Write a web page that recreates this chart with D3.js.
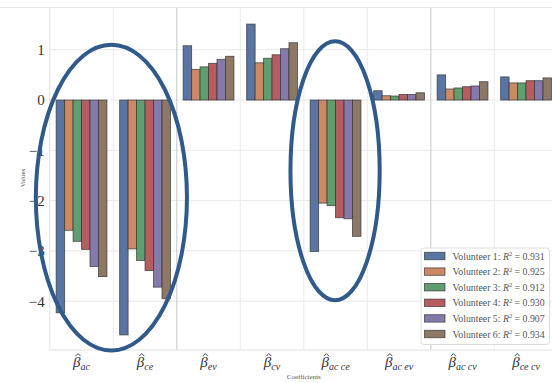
<!DOCTYPE html>
<html>
<head>
<meta charset="utf-8">
<script src="https://cdn.jsdelivr.net/npm/d3@7"></script>
<style>
  html, body { margin: 0; padding: 0; background: #fff; }
  svg { display: block; }
  text { font-family: "Liberation Serif", "DejaVu Serif", serif; }
</style>
</head>
<body>
<svg id="chart" width="552" height="383"></svg>
<script>
// Regression coefficients per volunteer
const coefficients = ["ac", "ce", "ev", "cv", "ac ce", "ac ev", "ac cv", "ce cv"];
const volunteers = ["Volunteer 1", "Volunteer 2", "Volunteer 3", "Volunteer 4", "Volunteer 5", "Volunteer 6"];
const rSquared = ["0.931", "0.925", "0.912", "0.930", "0.907", "0.934"];

const volunteer1 = [-4.23, -4.67, 1.08, 1.51, -3.01, 0.185, 0.50, 0.46];
const volunteer2 = [-2.59, -2.96, 0.61, 0.74, -2.05, 0.086, 0.22, 0.34];
const volunteer3 = [-2.81, -3.19, 0.66, 0.83, -2.10, 0.080, 0.24, 0.34];
const volunteer4 = [-2.97, -3.39, 0.73, 0.90, -2.34, 0.110, 0.265, 0.385];
const volunteer5 = [-3.31, -3.72, 0.81, 1.02, -2.36, 0.110, 0.28, 0.385];
const volunteer6 = [-3.51, -3.95, 0.87, 1.14, -2.71, 0.145, 0.365, 0.44];
const series = [volunteer1, volunteer2, volunteer3, volunteer4, volunteer5, volunteer6];

const yTicks = [-4, -3, -2, -1, 0, 1];
// category boundaries drawn as darker separators
const separators = [2, 6];
// highlighted groups, in category-index / value units
const highlights = [
  { from: -0.22, to: 2.16, top: 1.10, bottom: -4.98 },
  { from: 3.79, to: 5.195, top: 1.167, bottom: -3.98 }
];

const colors = ["#5875a4", "#cc8963", "#5f9e6e", "#b55d60", "#857aab", "#8d7866"];

const svg = d3.select("#chart");
const W = 552, H = 383;
const plot = { left: 49.8, right: 557.8, top: 8, bottom: 350 };

const x = d3.scaleBand().domain(d3.range(coefficients.length))
  .range([plot.left, plot.right]).paddingInner(0).paddingOuter(0);
const xPos = d3.scaleLinear().domain([0, coefficients.length]).range([plot.left, plot.right]);
const xInner = d3.scaleBand().domain(d3.range(volunteers.length))
  .range([x.bandwidth() * 0.1, x.bandwidth() * 0.9]);
const y = d3.scaleLinear().domain([-4.97, 1.83]).range([plot.bottom, plot.top]);

// top border line
svg.append("line").attr("x1", 0).attr("x2", W).attr("y1", 7.5).attr("y2", 7.5)
  .attr("stroke", "#e6e6e6").attr("stroke-width", 1);

// horizontal grid
svg.append("g").selectAll("line").data(yTicks).join("line")
  .attr("x1", plot.left).attr("x2", W)
  .attr("y1", d => y(d)).attr("y2", d => y(d))
  .attr("stroke", "#e8e8e8").attr("stroke-width", 1);

// vertical grid at category boundaries
svg.append("g").selectAll("line").data(d3.range(1, coefficients.length)).join("line")
  .attr("x1", d => xPos(d)).attr("x2", d => xPos(d))
  .attr("y1", plot.top).attr("y2", plot.bottom)
  .attr("stroke", d => separators.includes(d) ? "#c6c6c6" : "#ececec")
  .attr("stroke-width", 1);

// spines
svg.append("line").attr("x1", plot.left).attr("x2", plot.left)
  .attr("y1", plot.top).attr("y2", plot.bottom).attr("stroke", "#e0e0e0");
svg.append("line").attr("x1", plot.left).attr("x2", W)
  .attr("y1", plot.bottom).attr("y2", plot.bottom).attr("stroke", "#e0e0e0");

// bars
const groups = svg.append("g").selectAll("g").data(series).join("g")
  .attr("fill", (d, i) => colors[i]);
groups.each(function(vals, vi) {
  d3.select(this).selectAll("rect").data(vals).join("rect")
    .attr("x", (d, ci) => x(ci) + xInner(vi))
    .attr("width", xInner.bandwidth())
    .attr("y", d => y(Math.max(0, d)))
    .attr("height", d => Math.abs(y(d) - y(0)))
    .attr("stroke", "#333").attr("stroke-opacity", 0.75).attr("stroke-width", 0.9);
});

// y axis
const yAxis = svg.append("g").attr("transform", `translate(${plot.left},0)`)
  .call(d3.axisLeft(y).tickValues(yTicks).tickSize(0).tickPadding(5)
    .tickFormat(d => d < 0 ? "\u2212" + Math.abs(d) : String(d)));
yAxis.select(".domain").remove();
yAxis.selectAll("text").attr("font-size", 15).attr("fill", "#333")
  .style("font-family", "'Liberation Serif', serif");

// x axis: beta with italic subscript, hat drawn as a small stroke above
const xAxis = svg.append("g").attr("transform", `translate(0,${plot.bottom})`)
  .call(d3.axisBottom(x).tickSize(0).tickPadding(0).tickFormat(() => ""));
xAxis.select(".domain").remove();
xAxis.selectAll(".tick").each(function(ci) {
  const g = d3.select(this);
  const t = g.select("text").text(null)
    .attr("y", 17).attr("dy", null).attr("fill", "#333")
    .attr("text-anchor", "middle").style("font-style", "italic");
  const beta = t.append("tspan").attr("font-size", 15).text("\u03B2");
  t.append("tspan").attr("font-size", 10).attr("dy", 3).text(coefficients[ci]);
  const len = t.node().getComputedTextLength();
  const bw = beta.node().getComputedTextLength();
  const hx = -len / 2 + bw / 2 + 1.2;
  g.append("path")
    .attr("d", `M${hx - 2.6},6.2 L${hx},3.6 L${hx + 2.6},6.2`)
    .attr("fill", "none").attr("stroke", "#333").attr("stroke-width", 0.9);
});

// axis titles
svg.append("text").attr("x", (plot.left + plot.right) / 2).attr("y", 379)
  .attr("text-anchor", "middle").attr("font-size", 7).attr("fill", "#555")
  .text("Coefficients");
svg.append("text").attr("transform", "translate(25,178) rotate(-90)")
  .attr("text-anchor", "middle").attr("font-size", 7).attr("fill", "#555")
  .text("Values");

// highlight ellipses
svg.append("g").selectAll("ellipse").data(highlights).join("ellipse")
  .attr("cx", d => (xPos(d.from) + xPos(d.to)) / 2)
  .attr("cy", d => (y(d.top) + y(d.bottom)) / 2)
  .attr("rx", d => (xPos(d.to) - xPos(d.from)) / 2)
  .attr("ry", d => (y(d.bottom) - y(d.top)) / 2)
  .attr("fill", "none").attr("stroke", "#30598c").attr("stroke-width", 4);

// legend
const lg = svg.append("g");
lg.append("rect").attr("x", 421).attr("y", 248).attr("width", 128.5).attr("height", 96.5)
  .attr("rx", 3).attr("fill", "#fff").attr("fill-opacity", 0.9)
  .attr("stroke", "#dcdcdc").attr("stroke-width", 1);
const rows = lg.selectAll("g.row").data(volunteers).join("g").attr("class", "row")
  .attr("transform", (d, i) => `translate(0,${256 + i * 15.6})`);
rows.append("rect").attr("x", 424.5).attr("y", -3.7).attr("width", 20.5).attr("height", 7.4)
  .attr("fill", (d, i) => colors[i]).attr("stroke", "#333").attr("stroke-opacity", 0.75)
  .attr("stroke-width", 0.9);
const lt = rows.append("text").attr("x", 452.5).attr("y", 3.5)
  .attr("font-size", 9.8).attr("fill", "#555");
lt.append("tspan").text(d => d + ": ");
lt.append("tspan").style("font-style", "italic").text("R");
lt.append("tspan").attr("font-size", 6.5).attr("dy", -3.5).text("2");
lt.append("tspan").attr("dy", 3.5).text((d, i) => " = " + rSquared[i]);
</script>
</body>
</html>
